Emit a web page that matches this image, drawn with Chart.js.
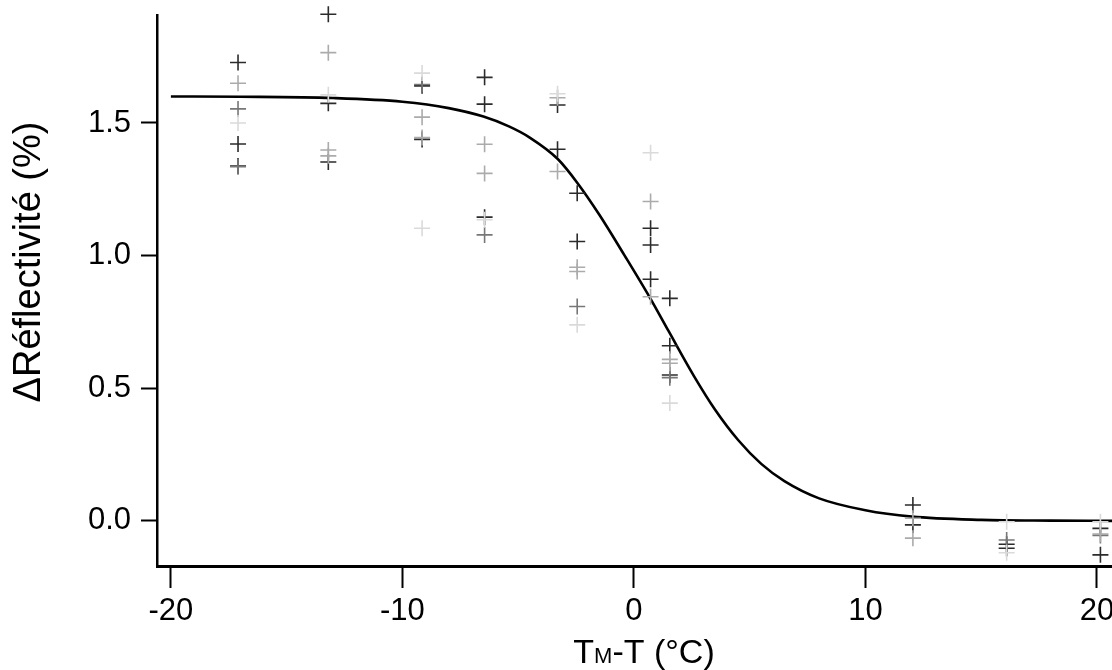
<!DOCTYPE html>
<html>
<head>
<meta charset="utf-8">
<script src="https://cdn.jsdelivr.net/npm/chart.js@4/dist/chart.umd.min.js"></script>
<style>
    html, body { margin: 0; padding: 0; background: #fff; overflow: hidden; }
    #wrap { width: 1112px; height: 670px; }
</style>
</head>
<body>
<div id="wrap"><canvas id="chart" width="1112" height="670"></canvas></div>
<script>
// fitted curve
const curveX = [-20, -17, -13, -10, -8, -6.5, -5.4, -4.5, -3.3, -2.45, -1.5, -0.4, 0.7, 1.5, 2.6, 3.5, 4.5, 5.5, 6.5, 8, 10, 12, 15, 18, 20.65];
const curveY = [1.60, 1.599, 1.594, 1.58, 1.556, 1.524, 1.487, 1.445, 1.365, 1.275, 1.155, 1.0, 0.84, 0.715, 0.545, 0.42, 0.305, 0.215, 0.15, 0.085, 0.04, 0.016, 0.004, 0.001, 0.0];

// measurements, grouped by the grey level of the cross
const darkX  = [-17.1, -17.1, -17.1, -13.2, -13.2, -13.2, -9.15, -9.15, -6.45, -6.45, -6.45, -3.3, -3.3, -2.45, -2.45, 0.72, 0.72, 0.72, 1.55, 1.55, 1.55, 12.05, 12.05, 16.1, 16.1, 20.15, 20.15];
const darkY  = [1.728, 1.421, 1.338, 1.91, 1.574, 1.353, 1.64, 1.438, 1.672, 1.571, 1.145, 1.568, 1.401, 1.235, 1.053, 1.103, 1.04, 0.911, 0.839, 0.66, 0.55, 0.06, -0.015, -0.088, -0.103, -0.028, -0.128];
const midX   = [-17.1, -17.1, -9.15, -6.45, -2.45, 1.55, 16.1, 20.15];
const midY   = [1.553, 1.335, 1.645, 1.078, 0.808, 0.54, -0.072, -0.055];
const lightX = [-17.1, -13.2, -13.2, -13.2, -9.15, -9.15, -6.45, -6.45, -3.3, -3.3, -2.45, -2.45, 0.72, 0.72, 1.55, 1.55, 12.05, 12.05, 20.15];
const lightY = [1.65, 1.765, 1.398, 1.376, 1.522, 1.445, 1.42, 1.31, 1.595, 1.317, 0.956, 0.94, 1.204, 0.845, 0.609, 0.594, 0.01, -0.065, -0.05];
const faintX = [-17.1, -13.2, -9.15, -9.15, -6.45, -3.3, -2.45, 0.72, 1.55, 16.1, 16.1, 20.15];
const faintY = [1.50, 1.606, 1.688, 1.103, 1.135, 1.61, 0.739, 1.388, 0.444, -0.003, -0.12, -0.003];

const xTicks = [-20, -10, 0, 10, 20];
const yTicks = [0, 0.5, 1.0, 1.5];

const FONT = 'Liberation Sans, Arial, sans-serif';

function pts(xs, ys) {
    return xs.map((x, i) => ({ x: x, y: ys[i] }));
}

function crossSet(xs, ys, color) {
    return {
        type: 'scatter',
        data: pts(xs, ys),
        pointStyle: 'cross',
        pointRadius: 8,
        pointHoverRadius: 8,
        borderColor: color,
        backgroundColor: color,
        pointBorderWidth: 1.6,
        clip: false
    };
}

// axis titles: x has the small "M" of T_M, y sits a bit above the middle
const axisTitles = {
    id: 'axisTitles',
    afterDraw(chart) {
        const ctx = chart.ctx;
        ctx.save();
        ctx.fillStyle = '#000';
        ctx.textBaseline = 'alphabetic';
        ctx.textAlign = 'left';

        const parts = [['T', 34], ['M', 22], ['-T (°C)', 34]];
        let total = 0;
        parts.forEach(p => { ctx.font = `${p[1]}px ${FONT}`; total += ctx.measureText(p[0]).width; });
        let x = 644 - total / 2;
        parts.forEach(p => {
            ctx.font = `${p[1]}px ${FONT}`;
            ctx.fillText(p[0], x, 663);
            x += ctx.measureText(p[0]).width;
        });

        ctx.translate(30, 262);
        ctx.rotate(-Math.PI / 2);
        ctx.font = `38px ${FONT}`;
        ctx.textAlign = 'center';
        ctx.textBaseline = 'middle';
        ctx.fillText('ΔRéflectivité (%)', 0, 0);
        ctx.restore();
    }
};

new Chart(document.getElementById('chart').getContext('2d'), {
    type: 'scatter',
    data: {
        datasets: [
            crossSet(faintX, faintY, '#dadada'),
            crossSet(lightX, lightY, '#ababab'),
            crossSet(midX, midY, '#777777'),
            crossSet(darkX, darkY, '#2b2b2b'),
            {
                type: 'line',
                data: pts(curveX, curveY),
                borderColor: '#000',
                borderWidth: 2.6,
                pointRadius: 0,
                fill: false,
                cubicInterpolationMode: 'monotone'
            }
        ]
    },
    plugins: [axisTitles],
    options: {
        responsive: false,
        animation: false,
        layout: { autoPadding: false, padding: { top: 15, left: 0, right: 0, bottom: 0 } },
        plugins: {
            legend: { display: false },
            tooltip: { enabled: false }
        },
        scales: {
            x: {
                type: 'linear',
                min: -20.6,
                max: 20.65,
                afterBuildTicks: (scale) => { scale.ticks = xTicks.map(v => ({ value: v })); },
                afterFit: (scale) => { scale.height = 104; scale.paddingLeft = 0; scale.paddingRight = 0; },
                border: { display: true, color: '#000', width: 3 },
                grid: { drawOnChartArea: false, drawTicks: true, tickLength: 22, tickWidth: 2, tickColor: '#000' },
                ticks: { color: '#000', padding: 5, font: { family: FONT, size: 31 }, maxRotation: 0 },
                title: { display: false }
            },
            y: {
                type: 'linear',
                min: -0.17,
                max: 1.907,
                afterBuildTicks: (scale) => { scale.ticks = yTicks.map(v => ({ value: v })); },
                afterFit: (scale) => { scale.width = 157; scale.paddingTop = 0; scale.paddingBottom = 0; },
                border: { display: true, color: '#000', width: 2.5 },
                grid: { drawOnChartArea: false, drawTicks: true, tickLength: 16, tickWidth: 2, tickColor: '#000' },
                ticks: { color: '#000', padding: 10, font: { family: FONT, size: 31 }, callback: (v) => v.toFixed(1) },
                title: { display: false }
            }
        }
    }
});
</script>
</body>
</html>
